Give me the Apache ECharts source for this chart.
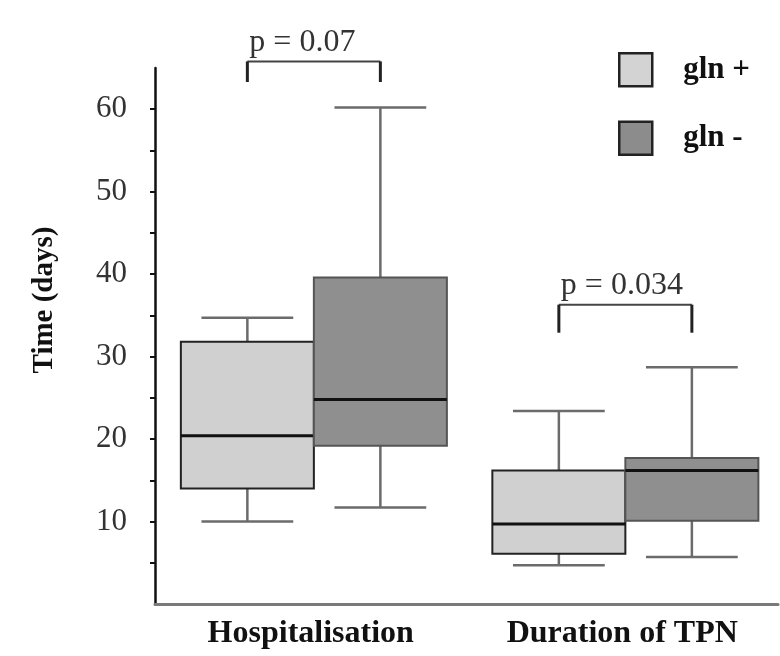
<!DOCTYPE html>
<html>
<head>
<meta charset="utf-8">
<script src="https://cdn.jsdelivr.net/npm/echarts@6/dist/echarts.min.js"></script>
<style>
  html, body { margin: 0; padding: 0; background: #fff; }
  #timeBox { width: 780px; height: 656px; }
</style>
</head>
<body>
<div id="timeBox"></div>
<script>
// categories and legend names
const categories = ['Hospitalisation', 'Duration of TPN']
const groups = ['gln +', 'gln -']

// box values per category: [low, q1, median, q3, high] (days)
const glnPlus = [
  [10.0, 14.0, 20.4, 31.8, 34.7],
  [4.7, 6.1, 9.7, 16.2, 23.4]
]
const glnMinus = [
  [11.7, 19.2, 24.8, 39.6, 60.2],
  [5.7, 10.1, 16.2, 17.7, 28.7]
]

// significance brackets: leg bottom, bracket top, label
const bracketLow = [63.3, 32.9]
const bracketTop = [65.8, 36.3]
const pLabels = ['p = 0.07', 'p = 0.034']

// y axis ticks
const tickValues = [5, 10, 15, 20, 25, 30, 35, 40, 45, 50, 55, 60]
const tickLabels = [10, 20, 30, 40, 50, 60]

const FONT = '"Liberation Serif", "Times New Roman", serif'
const BOX_RATIO = 0.427 // box width / category band
const CAP_RATIO = 0.69 // whisker cap / box width
const SHIFT = 0.01

const chart = echarts.init(document.getElementById('timeBox'))

function boxRenderer (side, fill, border) {
  return function (params, api) {
    const cat = api.value(0)
    const band = api.size([1, 0])[0]
    const w = band * BOX_RATIO
    const cx = api.coord([cat, 0])[0] + side * w / 2 + band * SHIFT
    const y = v => api.coord([cat, v])[1]
    const yLow = y(api.value(1))
    const yQ1 = y(api.value(2))
    const yMed = y(api.value(3))
    const yQ3 = y(api.value(4))
    const yHigh = y(api.value(5))
    const cap = w * CAP_RATIO / 2
    const whisker = { stroke: '#6b6b6b', lineWidth: 2.5 }
    return {
      type: 'group',
      children: [
        { type: 'line', shape: { x1: cx, y1: yQ3, x2: cx, y2: yHigh }, style: whisker },
        { type: 'line', shape: { x1: cx, y1: yQ1, x2: cx, y2: yLow }, style: whisker },
        { type: 'line', shape: { x1: cx - cap, y1: yHigh, x2: cx + cap, y2: yHigh }, style: whisker },
        { type: 'line', shape: { x1: cx - cap, y1: yLow, x2: cx + cap, y2: yLow }, style: whisker },
        {
          type: 'rect',
          shape: { x: cx - w / 2, y: yQ3, width: w, height: yQ1 - yQ3 },
          style: { fill: fill, stroke: border, lineWidth: 2 }
        },
        { type: 'line', shape: { x1: cx - w / 2, y1: yMed, x2: cx + w / 2, y2: yMed }, style: { stroke: '#111', lineWidth: 3 } }
      ]
    }
  }
}

function bracketRenderer (params, api) {
  const cat = api.value(0)
  const band = api.size([1, 0])[0]
  const w = band * BOX_RATIO
  const cx = api.coord([cat, 0])[0] + band * SHIFT
  const yLow = api.coord([cat, api.value(1)])[1]
  const yTop = api.coord([cat, api.value(2)])[1]
  const half = w / 2
  return {
    type: 'group',
    children: [
      { type: 'line', shape: { x1: cx - half, y1: yTop, x2: cx + half, y2: yTop }, style: { stroke: '#444', lineWidth: 2 } },
      { type: 'line', shape: { x1: cx - half, y1: yTop, x2: cx - half, y2: yLow }, style: { stroke: '#222', lineWidth: 3 } },
      { type: 'line', shape: { x1: cx + half, y1: yTop, x2: cx + half, y2: yLow }, style: { stroke: '#222', lineWidth: 3 } },
      {
        type: 'text',
        x: cx - half + 2,
        y: yTop - 3,
        style: {
          text: pLabels[params.dataIndex],
          fontFamily: FONT,
          fontSize: 32,
          fill: '#333',
          align: 'left',
          verticalAlign: 'bottom'
        }
      }
    ]
  }
}

const option = {
  backgroundColor: '#fff',
  animation: false,
  grid: { left: 155, right: 2, top: 68, bottom: 52 },
  legend: {
    orient: 'vertical',
    left: 613,
    top: 47,
    itemWidth: 33,
    itemHeight: 33,
    itemGap: 33,
    icon: 'rect',
    selectedMode: false,
    data: [
      { name: groups[0], itemStyle: { color: '#d3d3d3', borderColor: '#222', borderWidth: 2.5 } },
      { name: groups[1], itemStyle: { color: '#8c8c8c', borderColor: '#222', borderWidth: 2.5 } }
    ],
    textStyle: { fontFamily: FONT, fontWeight: 'bold', fontSize: 31, color: '#111', padding: [0, 0, 0, 26] }
  },
  graphic: [{
    type: 'text',
    x: 45,
    y: 300,
    rotation: Math.PI / 2,
    style: {
      text: 'Time (days)',
      fontFamily: FONT,
      fontWeight: 'bold',
      fontSize: 29,
      fill: '#111',
      align: 'center',
      verticalAlign: 'middle'
    }
  }],
  xAxis: {
    type: 'category',
    data: categories,
    axisTick: { show: false },
    axisLine: { lineStyle: { color: '#7a7a7a', width: 3 } },
    axisLabel: { fontFamily: FONT, fontWeight: 'bold', fontSize: 32, color: '#111', margin: 14 }
  },
  yAxis: {
    type: 'value',
    min: 0,
    max: 65,
    splitLine: { show: false },
    axisLine: { show: true, lineStyle: { color: '#111', width: 2.5 } },
    axisTick: { show: true, length: 5, customValues: tickValues, lineStyle: { color: '#111', width: 2 } },
    axisLabel: { customValues: tickLabels, margin: 28, fontFamily: FONT, fontSize: 31, color: '#333' }
  },
  series: [
    {
      name: groups[0],
      type: 'custom',
      itemStyle: { color: '#d3d3d3' },
      encode: { x: 0, y: [1, 2, 3, 4, 5] },
      renderItem: boxRenderer(-1, '#d0d0d0', '#222'),
      data: glnPlus.map((d, i) => [i].concat(d))
    },
    {
      name: groups[1],
      type: 'custom',
      itemStyle: { color: '#8c8c8c' },
      encode: { x: 0, y: [1, 2, 3, 4, 5] },
      renderItem: boxRenderer(1, '#8f8f8f', '#555'),
      data: glnMinus.map((d, i) => [i].concat(d))
    },
    {
      type: 'custom',
      clip: false,
      encode: { x: 0, y: [1, 2] },
      renderItem: bracketRenderer,
      data: categories.map((c, i) => [i, bracketLow[i], bracketTop[i]])
    }
  ]
}

chart.setOption(option)
</script>
</body>
</html>
